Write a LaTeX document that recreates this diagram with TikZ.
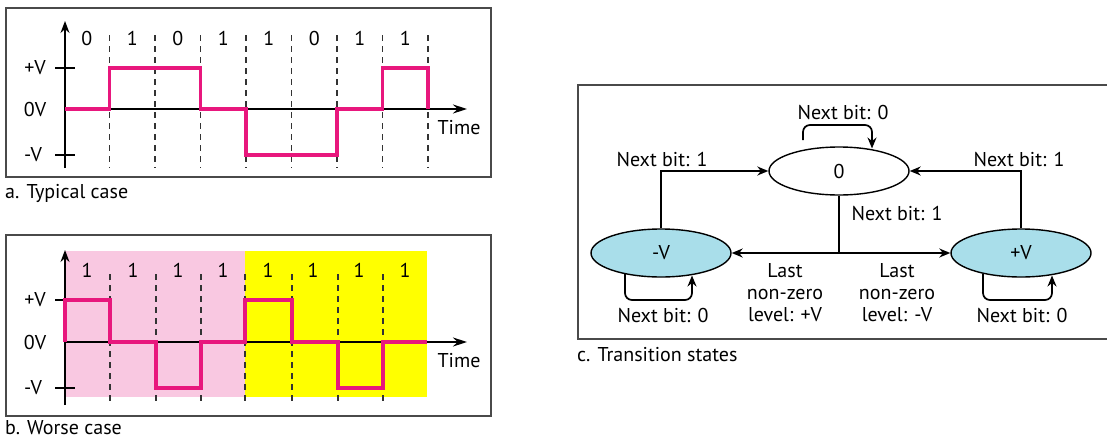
\documentclass[tikz,border=0pt]{standalone}
\usepackage{fontspec}
\setmainfont{PT Sans}
\usetikzlibrary{arrows.meta,shapes.geometric}
\definecolor{sigc}{HTML}{E8177D}
\definecolor{pinkbg}{HTML}{F9C8E1}
\definecolor{yellowbg}{HTML}{FFFF00}
\definecolor{stateblue}{HTML}{A9DEEA}
\definecolor{framec}{HTML}{4A4A4A}
\begin{document}
\begin{tikzpicture}[x=1pt,y=-1pt,
  every node/.style={font=\fontsize{20}{24}\selectfont, inner sep=0pt},
  frame/.style={draw=framec, line width=1.6pt},
  axis/.style={draw=black, line width=1.5pt},
  tick/.style={draw=black, line width=1.4pt},
  grid/.style={draw=black!80, line width=1.4pt, dash pattern=on 6pt off 5pt},
  sig/.style={draw=sigc, line width=3.6pt, line join=miter},
  lbl/.style={anchor=center},
  capt/.style={anchor=west},
  state/.style={ellipse, draw=black, line width=1.4pt, minimum width=140pt, minimum height=48pt},
  conn/.style={draw=black, line width=1.7pt, -{Stealth[length=11pt,width=9pt]}},
  seg/.style={draw=black, line width=1.7pt},
  loopc/.style={conn, rounded corners=7pt}]
\useasboundingbox (0,0) rectangle (1107,439);

% ---------------- panel a ----------------
\draw[frame] (6,8) rectangle (491,177);
\foreach \x in {109.5,155,200.5,246,291.5,337,382.5,428}
  \draw[grid] (\x,35) -- (\x,168);
\draw[axis,-{Stealth[length=12pt,width=9pt]}] (65,168) -- (65,21);
\draw[axis,-{Stealth[length=14pt,width=9pt]}] (65,109) -- (467,109);
\draw[tick] (55,68) -- (75,68);
\draw[tick] (55,155) -- (75,155);
\node[lbl] (apv) at (35,68) {+V};
\node[lbl] (a0v) at (35,109) {0V};
\node[lbl] (amv) at (33,155) {-V};
\node[lbl] (atime) at (459,128) {Time};
\foreach \x/\b [count=\i] in {86.75/0,132.25/1,177.75/0,223.25/1,268.75/1,314.25/0,359.75/1,405.25/1}
  \node[lbl] (abit\i) at (\x,38) {\b};
\draw[sig] (65,109) -- (109.5,109) -- (109.5,68) -- (200.5,68) -- (200.5,109)
  -- (246,109) -- (246,155) -- (337,155) -- (337,109) -- (382.5,109)
  -- (382.5,68) -- (428,68) -- (428,109);
\node[capt] (capa) at (5,193) {a. Typical case};

% ---------------- panel b ----------------
\fill[pinkbg] (65,251) rectangle (245,397);
\fill[yellowbg] (245,251) rectangle (427,397);
\draw[frame] (6,235) rectangle (491,416);
\foreach \x in {110,156,201,245,292,338,383}
  \draw[grid] (\x,274) -- (\x,405);
\draw[axis,-{Stealth[length=12pt,width=9pt]}] (65,405) -- (65,250);
\draw[axis,-{Stealth[length=14pt,width=9pt]}] (65,342) -- (467,342);
\draw[tick] (55,300) -- (75,300);
\draw[tick] (55,388) -- (75,388);
\node[lbl] (bpv) at (35,300) {+V};
\node[lbl] (b0v) at (35,342) {0V};
\node[lbl] (bmv) at (33,388) {-V};
\node[lbl] (btime) at (459,361) {Time};
\foreach \x [count=\i] in {87,133,178,223,268,313,359,405}
  \node[lbl] (bbit\i) at (\x,270) {1};
\draw[sig] (65,342) -- (65,300) -- (110,300) -- (110,342) -- (156,342)
  -- (156,388) -- (201,388) -- (201,342) -- (245,342) -- (245,300)
  -- (292,300) -- (292,342) -- (338,342) -- (338,388) -- (383,388)
  -- (383,342) -- (427,342);
\node[capt] (capb) at (5,428) {b. Worse case};

% ---------------- panel c ----------------
\draw[frame] (1108,85) -- (578,85) -- (578,339) -- (1108,339);
\node[state] (z) at (839,171) {0};
\node[state, fill=stateblue] (mv) at (661,253) {-V};
\node[state, fill=stateblue] (pv) at (1021,253) {+V};

\draw[conn] (mv.north) |- (z.west);
\draw[conn] (pv.north) |- (z.east);
\coordinate (j) at (839,253);
\draw[seg] (z.south) -- (j);
\draw[conn] (j) -- (mv.east);
\draw[conn] (j) -- (pv.west);

\coordinate (zl) at (803,140);
\coordinate (zr) at (872,148.5);
\draw[loopc] (zl) |- (872,125) -- (zr);
\coordinate (ml) at (625,274);
\coordinate (mr) at (692,275.5);
\draw[loopc] (ml) |- (692,300) -- (mr);
\coordinate (pl) at (983,274);
\coordinate (pr) at (1052,275.5);
\draw[loopc] (pl) |- (1052,300) -- (pr);

\node[lbl] (l0) at (843,112) {Next bit: 0};
\node[lbl] (l1) at (662,159) {Next bit: 1};
\node[lbl] (l2) at (1019,159) {Next bit: 1};
\node[lbl] (l3) at (897,213) {Next bit: 1};
\node[lbl] (l4) at (663,315) {Next bit: 0};
\node[lbl] (l5) at (1022,315) {Next bit: 0};
\node[lbl, align=center, font=\fontsize{20}{22}\selectfont] (l6) at (785,293) {Last\\non-zero\\level: +V};
\node[lbl, align=center, font=\fontsize{20}{22}\selectfont] (l7) at (897,293) {Last\\non-zero\\level: -V};
\node[capt] (capc) at (577,355) {c. Transition states};
\end{tikzpicture}
\end{document}
